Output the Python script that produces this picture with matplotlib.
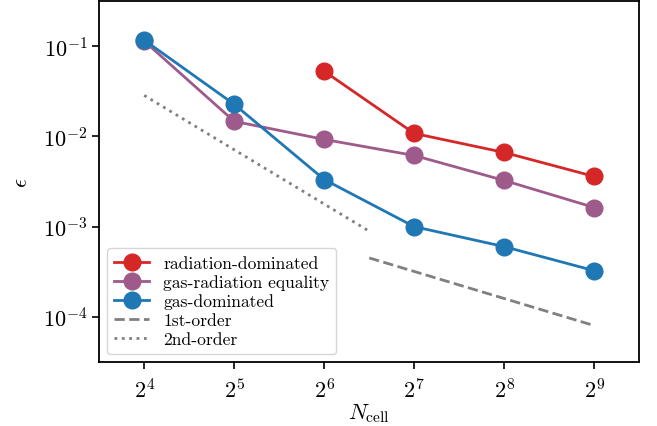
import numpy as np
import matplotlib
matplotlib.use('Agg')
import matplotlib.pyplot as plt
from matplotlib.ticker import LogLocator, NullLocator

plt.rcParams['font.family'] = 'serif'
plt.rcParams['font.serif'] = ['cmr10', 'DejaVu Serif']
plt.rcParams['mathtext.fontset'] = 'cm'
plt.rcParams['axes.formatter.use_mathtext'] = True

# resolution study data
n_cell = [16, 32, 64, 128, 256, 512]
n_cell_rad = [64, 128, 256, 512]
err_rad = [0.0528, 0.0108, 0.00664, 0.0036]
err_equal = [0.114, 0.0147, 0.00926, 0.00615, 0.00325, 0.00163]
err_gas = [0.117, 0.0227, 0.00333, 0.00100, 0.00060, 0.000325]

# reference slopes
n_first = [90.5, 512]
err_first = [4.5e-4, 8.0e-5]
n_second = [16, 90.5]
err_second = [2.85e-2, 8.9e-4]

fig = plt.figure(figsize=(6.57, 4.27), dpi=100)
ax = fig.add_axes([0.151, 0.150, 0.822, 0.845])

ax.plot(n_cell_rad, err_rad, 'o-', color='#d62728', lw=2, ms=12,
        label='radiation-dominated')
ax.plot(n_cell, err_equal, 'o-', color='#9e5a8a', lw=2, ms=12,
        label='gas-radiation equality')
ax.plot(n_cell, err_gas, 'o-', color='#1f77b4', lw=2, ms=12,
        label='gas-dominated')
ax.plot(n_first, err_first, '--', color='gray', lw=2, label='1st-order')
ax.plot(n_second, err_second, ':', color='gray', lw=2, label='2nd-order')

ax.set_xscale('log', base=2)
ax.set_yscale('log')
ax.set_xlim(2**3.5, 2**9.5)
ax.set_ylim(10**-4.5, 10**-0.5)
ax.xaxis.set_major_locator(LogLocator(base=2))
ax.xaxis.set_minor_locator(NullLocator())
ax.yaxis.set_minor_locator(NullLocator())
ax.tick_params(labelsize=16, length=5, width=1.2)
ax.tick_params(axis='x', pad=6)
for s in ax.spines.values():
    s.set_linewidth(1.3)

ax.set_xlabel(r'$N_{\rm cell}$', fontsize=16, labelpad=0)
ax.set_ylabel(r'$\epsilon$', fontsize=16, labelpad=8)
ax.legend(loc='lower left', fontsize=12.6, borderaxespad=0.45,
          handlelength=2.0, labelspacing=0.2)

plt.savefig('out.png')
